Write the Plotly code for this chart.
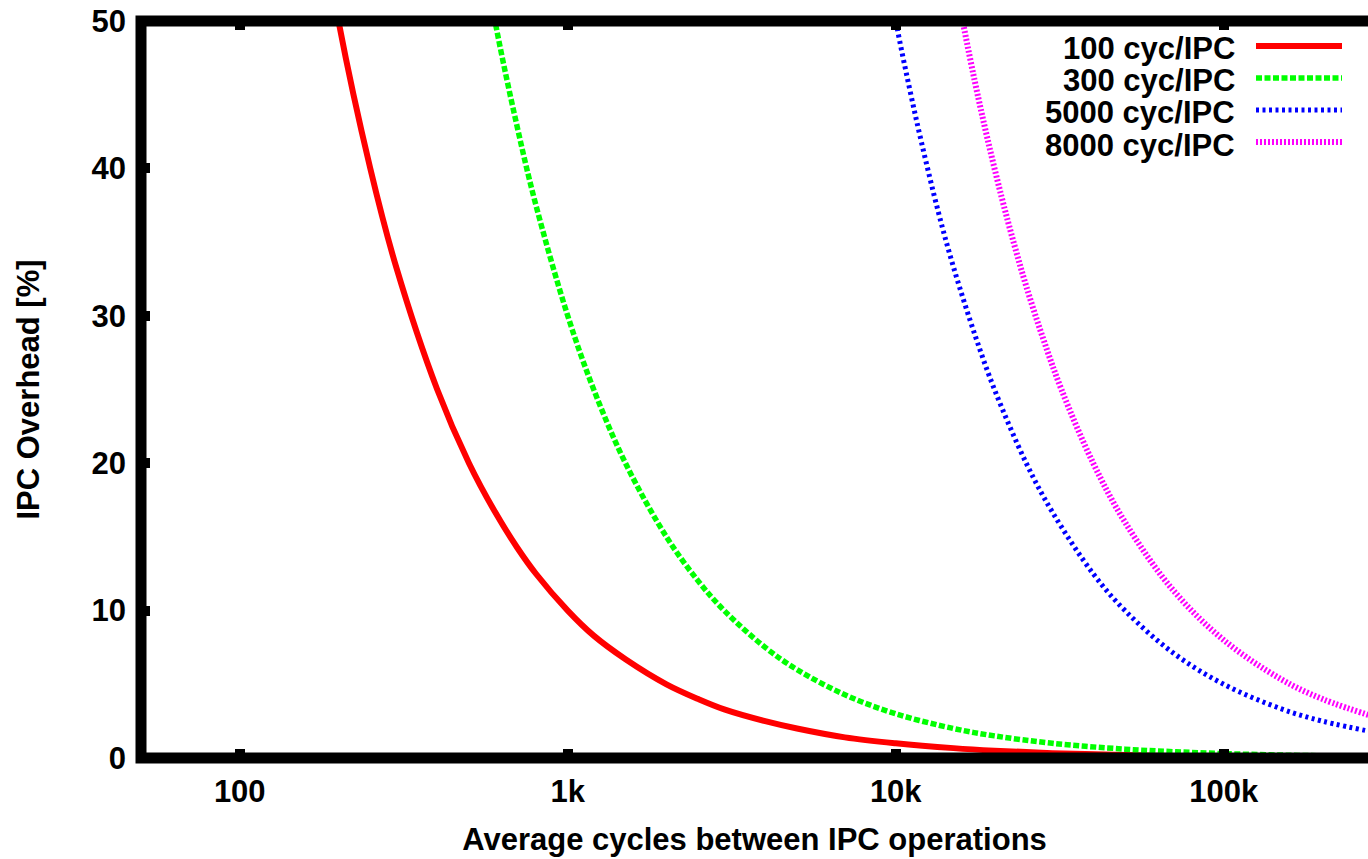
import plotly.graph_objects as go
import math

# ---- data ----
series_names = ["100 cyc/IPC", "300 cyc/IPC", "5000 cyc/IPC", "8000 cyc/IPC"]

x_100 = [150, 200, 250, 300, 400, 500, 600, 700, 800, 1000, 1200, 1500, 2000, 2500,
         3000, 4000, 5000, 7000, 10000, 15000, 20000, 30000, 50000, 70000, 100000,
         150000, 200000, 300000]
y_100 = [66.7, 50, 40, 33.3, 25, 20, 16.7, 14.3, 12.5, 10, 8.3, 6.7, 5, 4,
         3.3, 2.5, 2, 1.4, 1, 0.67, 0.5, 0.33, 0.2, 0.14, 0.1,
         0.07, 0.05, 0.03]

x_300 = [500, 600, 700, 800, 1000, 1200, 1500, 2000, 2500, 3000, 4000, 5000, 7000,
         10000, 15000, 20000, 30000, 50000, 70000, 100000, 150000, 200000, 300000]
y_300 = [60, 50, 42.9, 37.5, 30, 25, 20, 15, 12, 10, 7.5, 6, 4.29,
         3, 2, 1.5, 1, 0.6, 0.43, 0.3, 0.2, 0.15, 0.1]

x_5000 = [9000, 10000, 11000, 12000, 13500, 15000, 17500, 20000, 25000, 30000, 40000,
          50000, 70000, 100000, 150000, 200000, 300000]
y_5000 = [55.6, 50, 45.5, 41.7, 37, 33.3, 28.6, 25, 20, 16.7, 12.5,
          10, 7.14, 5, 3.33, 2.5, 1.67]

x_8000 = [14500, 16000, 17500, 19000, 21000, 23000, 25000, 28000, 32000, 40000, 50000,
          70000, 100000, 150000, 200000, 300000]
y_8000 = [55.2, 50, 45.7, 42.1, 38.1, 34.8, 32, 28.6, 25, 20, 16,
          11.4, 8, 5.33, 4, 2.67]

x_tick_vals = [100, 1000, 10000, 100000]
x_tick_text = ["100", "1k", "10k", "100k"]
y_tick_vals = [0, 10, 20, 30, 40, 50]

x_title = "Average cycles between IPC operations"
y_title = "IPC Overhead [%]"

# ---- styling ----
colors = ["#ff0000", "#00ff00", "#0000ff", "#ff00ff"]
dashes = ["solid", "6px,2.5px", "3px,3.5px", "2px,2px"]
widths = [6, 5.5, 5, 6]

FONT = dict(family="Liberation Sans, Arial, sans-serif", size=31, color="black", weight="bold")

W, H = 1368, 859
ML, MT, MB, MR = 141, 21, 101, 0

fig = go.Figure()
xs = [x_100, x_300, x_5000, x_8000]
ys = [y_100, y_300, y_5000, y_8000]
for name, x, y, c, d, w in zip(series_names, xs, ys, colors, dashes, widths):
    fig.add_trace(go.Scatter(
        x=x, y=y, mode="lines", name=name,
        line=dict(color=c, dash=d, width=w, shape="spline", smoothing=1.0),
        showlegend=False, hoverinfo="skip",
    ))

# log range: 50 at left border, ~328 px per decade
px_per_decade = 328.0
x_lo = math.log10(50)
x_hi = x_lo + (W - ML - MR) / px_per_decade

fig.update_xaxes(
    type="log", range=[x_lo, x_hi],
    tickvals=x_tick_vals, ticktext=x_tick_text,
    ticks="inside", ticklen=9, tickwidth=10, tickcolor="black",
    mirror="ticks", showline=False, showgrid=False, zeroline=False,
    tickfont=FONT, ticklabelstandoff=12,
    title=dict(text=x_title, font=FONT, standoff=20),
)
fig.update_yaxes(
    range=[0, 50], tickvals=y_tick_vals,
    ticks="inside", ticklen=9, tickwidth=10, tickcolor="black",
    showline=False, showgrid=False, zeroline=False,
    tickfont=FONT, ticklabelstandoff=14,
    title=dict(text=y_title, font=FONT, standoff=42),
)

# gnuplot-style thick border (left, top, bottom; right edge lies outside the picture)
fig.add_shape(type="path", xref="paper", yref="paper",
              path="M 1.05,0 L 0,0 L 0,1 L 1.05,1",
              line=dict(color="black", width=11), layer="above")

# legend: right-justified text followed by a line sample
leg_text_x = (1237 - ML) / (W - ML - MR)
leg_s0 = (1256 - ML) / (W - ML - MR)
leg_s1 = (1342 - ML) / (W - ML - MR)
leg_rows_px = [46, 78, 110, 142]
ph = H - MT - MB
for name, c, d, w, ry in zip(series_names, colors, dashes, widths, leg_rows_px):
    yp = (H - MB - ry) / ph
    fig.add_annotation(x=leg_text_x, y=yp - 3.0 / ph, xref="paper", yref="paper",
                       text=name, showarrow=False, xanchor="right", yanchor="middle",
                       font=FONT)
    fig.add_shape(type="line", xref="paper", yref="paper",
                  x0=leg_s0, x1=leg_s1, y0=yp, y1=yp,
                  line=dict(color=c, dash=d, width=w))

fig.update_layout(
    width=W, height=H,
    margin=dict(l=ML, r=MR, t=MT, b=MB, pad=0),
    plot_bgcolor="white", paper_bgcolor="white",
    font=FONT, showlegend=False, hovermode=False,
)

fig.write_html(
    "out.html",
    config={"displayModeBar": False, "staticPlot": True},
    post_script="document.body.style.margin='0';document.body.style.overflow='hidden';",
)
